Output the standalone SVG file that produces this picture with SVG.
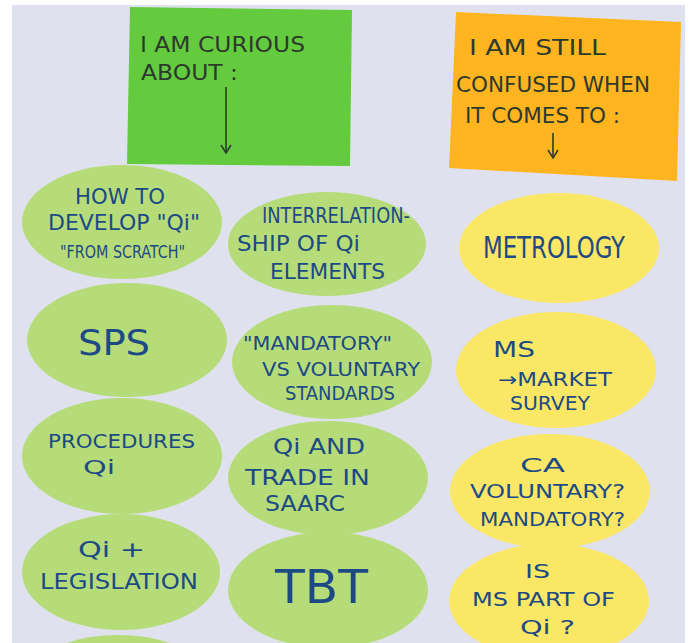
<svg xmlns="http://www.w3.org/2000/svg" width="691" height="643" viewBox="0 0 691 643">
<defs>
<style>
.board{fill:#dfe2ee}
.gnote{fill:#63cb3d}
.onote{fill:#ffb420}
.gov{fill:#b6dc79}
.yov{fill:#fae766}
.hand{font-family:"Liberation Sans Narrow","DejaVu Sans Condensed","Liberation Sans",sans-serif;fill:#1d4a84;font-size:21px}
.dark{fill:#2c3a2e}
.t{font-size:19px}
.big{font-size:36px}
.huge{font-size:46px}
.sm{font-size:18px}
.arrow{stroke:#2c3a2e;stroke-width:1.6;fill:none}
</style>
<marker id="ah" viewBox="0 0 12 12" refX="11" refY="6" markerWidth="12" markerHeight="12" markerUnits="userSpaceOnUse" orient="auto">
<polyline points="3,1 11,6 3,11" fill="none" stroke="#2c3a2e" stroke-width="1.5"/>
</marker>
</defs>
<rect width="691" height="643" fill="#ffffff"/>
<rect class="board" x="12" y="5" width="673" height="638"/>

<g id="note-curious">
<polygon class="gnote" points="130,7 352,10 350,166 127,164"/>
<text class="hand dark" x="140" y="52" textLength="165" lengthAdjust="spacingAndGlyphs">I AM CURIOUS</text>
<text class="hand dark" x="141" y="80" textLength="97" lengthAdjust="spacingAndGlyphs">ABOUT :</text>
</g>
<g id="note-confused">
<polygon class="onote" points="456,12 681,22 677,181 449,168"/>
<text class="hand dark" x="469" y="55" textLength="137" lengthAdjust="spacingAndGlyphs">I AM STILL</text>
<text class="hand dark" x="456" y="92" textLength="194" lengthAdjust="spacingAndGlyphs">CONFUSED WHEN</text>
<text class="hand dark" x="465" y="123" textLength="155" lengthAdjust="spacingAndGlyphs">IT COMES TO :</text>
</g>

<g id="connectors">
<line class="arrow" x1="226" y1="87" x2="226" y2="153" marker-end="url(#ah)"/>
<line class="arrow" x1="553" y1="133" x2="553" y2="158" marker-end="url(#ah)"/>
</g>

<g id="c-howto">
<ellipse class="gov" cx="122" cy="222" rx="100" ry="57"/>
<text class="hand" x="75" y="204" textLength="90" lengthAdjust="spacingAndGlyphs">HOW TO</text>
<text class="hand" x="48" y="230" textLength="152" lengthAdjust="spacingAndGlyphs">DEVELOP "Qi"</text>
<text class="hand sm" x="60" y="258" textLength="125" lengthAdjust="spacingAndGlyphs">"FROM SCRATCH"</text>
</g>
<g id="c-interrelation">
<ellipse class="gov" cx="327" cy="244" rx="99" ry="52"/>
<text class="hand" x="262" y="223" textLength="148" lengthAdjust="spacingAndGlyphs">INTERRELATION-</text>
<text class="hand" x="237" y="251" textLength="123" lengthAdjust="spacingAndGlyphs">SHIP OF Qi</text>
<text class="hand" x="270" y="279" textLength="115" lengthAdjust="spacingAndGlyphs">ELEMENTS</text>
</g>
<g id="c-sps">
<ellipse class="gov" cx="127" cy="340" rx="100" ry="57"/>
<text class="hand big" x="78" y="355" textLength="72" lengthAdjust="spacingAndGlyphs">SPS</text>
</g>
<g id="c-mandatory">
<ellipse class="gov" cx="332" cy="362" rx="100" ry="57"/>
<text class="hand t" x="243" y="350" textLength="149" lengthAdjust="spacingAndGlyphs">"MANDATORY"</text>
<text class="hand t" x="262" y="376" textLength="158" lengthAdjust="spacingAndGlyphs">VS VOLUNTARY</text>
<text class="hand t" x="285" y="400" textLength="110" lengthAdjust="spacingAndGlyphs">STANDARDS</text>
</g>
<g id="c-procedures">
<ellipse class="gov" cx="122" cy="456" rx="100" ry="58"/>
<text class="hand t" x="48" y="448" textLength="147" lengthAdjust="spacingAndGlyphs">PROCEDURES</text>
<text class="hand t" x="83" y="474" textLength="32" lengthAdjust="spacingAndGlyphs">Qi</text>
</g>
<g id="c-trade">
<ellipse class="gov" cx="328" cy="478" rx="100" ry="57"/>
<text class="hand" x="273" y="454" textLength="92" lengthAdjust="spacingAndGlyphs">Qi AND</text>
<text class="hand" x="245" y="485" textLength="125" lengthAdjust="spacingAndGlyphs">TRADE IN</text>
<text class="hand" x="265" y="511" textLength="80" lengthAdjust="spacingAndGlyphs">SAARC</text>
</g>
<g id="c-legislation">
<ellipse class="gov" cx="121" cy="572" rx="99" ry="58"/>
<text class="hand" x="78" y="557" textLength="67" lengthAdjust="spacingAndGlyphs">Qi +</text>
<text class="hand" x="40" y="589" textLength="158" lengthAdjust="spacingAndGlyphs">LEGISLATION</text>
</g>
<g id="c-tbt">
<ellipse class="gov" cx="328" cy="590" rx="100" ry="58"/>
<text class="hand huge" x="275" y="603" textLength="93" lengthAdjust="spacingAndGlyphs">TBT</text>
</g>
<g id="c-partial">
<ellipse class="gov" cx="118" cy="692" rx="100" ry="57"/>
</g>

<g id="y-metrology">
<ellipse class="yov" cx="559" cy="248" rx="100" ry="55"/>
<text class="hand" style="font-size:30px" x="483" y="258" textLength="142" lengthAdjust="spacingAndGlyphs">METROLOGY</text>
</g>
<g id="y-ms">
<ellipse class="yov" cx="556" cy="370" rx="100" ry="58"/>
<text class="hand" x="493" y="357" textLength="42" lengthAdjust="spacingAndGlyphs">MS</text>
<text class="hand t" x="498" y="386" textLength="114" lengthAdjust="spacingAndGlyphs">→MARKET</text>
<text class="hand t" x="510" y="410" textLength="80" lengthAdjust="spacingAndGlyphs">SURVEY</text>
</g>
<g id="y-ca">
<ellipse class="yov" cx="550" cy="491" rx="100" ry="57"/>
<text class="hand t" x="520" y="472" textLength="45" lengthAdjust="spacingAndGlyphs">CA</text>
<text class="hand t" x="470" y="498" textLength="155" lengthAdjust="spacingAndGlyphs">VOLUNTARY?</text>
<text class="hand t" x="480" y="526" textLength="145" lengthAdjust="spacingAndGlyphs">MANDATORY?</text>
</g>
<g id="y-is">
<ellipse class="yov" cx="549" cy="601" rx="100" ry="57"/>
<text class="hand t" x="525" y="578" textLength="25" lengthAdjust="spacingAndGlyphs">IS</text>
<text class="hand t" x="472" y="606" textLength="143" lengthAdjust="spacingAndGlyphs">MS PART OF</text>
<text class="hand t" x="520" y="634" textLength="55" lengthAdjust="spacingAndGlyphs">Qi ?</text>
</g>
</svg>
